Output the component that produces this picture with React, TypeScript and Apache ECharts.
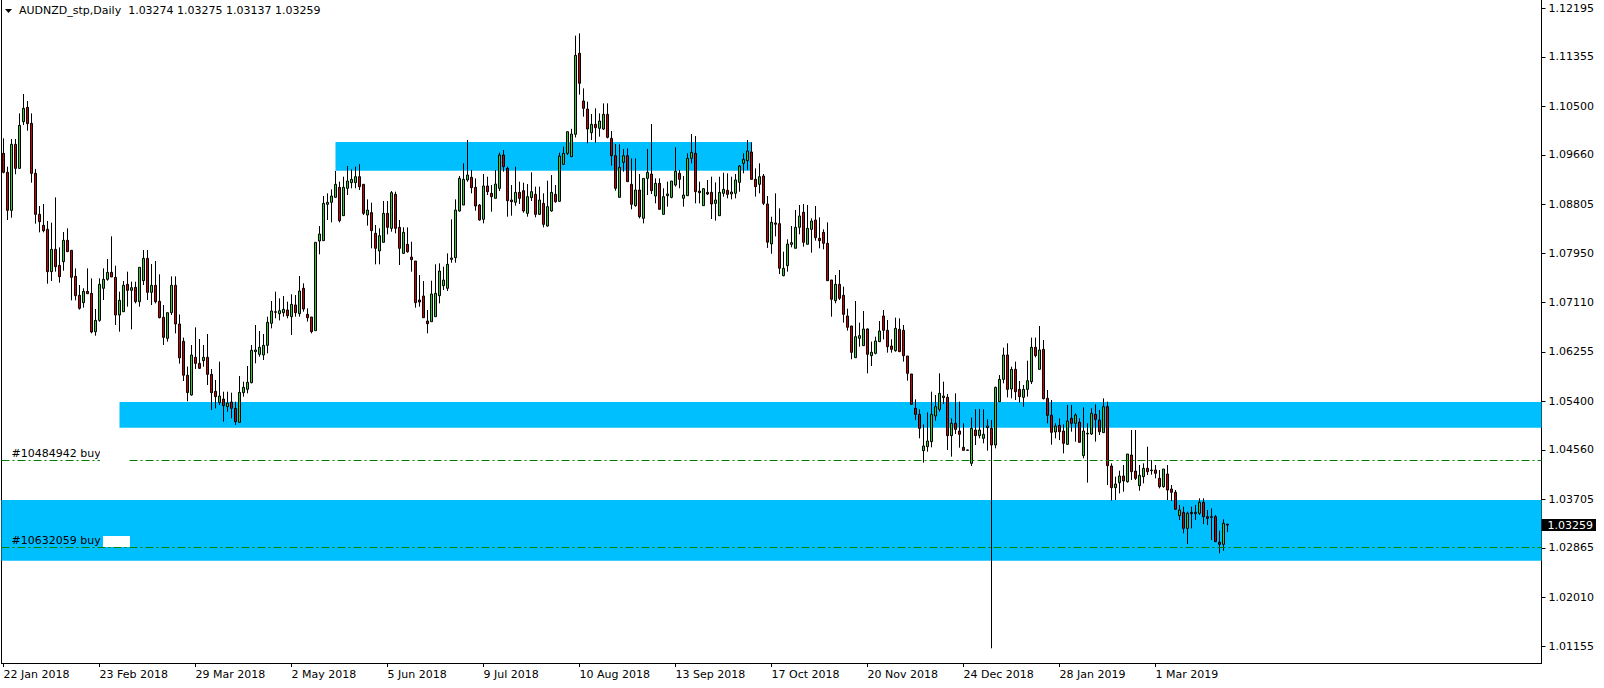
import React, { useEffect, useRef } from 'react';
import * as echarts from 'echarts';

const headerText = 'AUDNZD_stp,Daily  1.03274 1.03275 1.03137 1.03259';
const startDate = '2018-01-22';
const skippedDates = ['2019-01-01'];
const slotCount = 385;
const labelEvery = 24;
const tickLabels = ['22 Jan 2018', '23 Feb 2018', '29 Mar 2018', '2 May 2018', '5 Jun 2018', '9 Jul 2018', '10 Aug 2018', '13 Sep 2018', '17 Oct 2018', '20 Nov 2018', '24 Dec 2018', '28 Jan 2019', '1 Mar 2019'];
const tickPrices = [1.12195, 1.11355, 1.105, 1.0966, 1.08805, 1.0795, 1.0711, 1.06255, 1.054, 1.0456, 1.03705, 1.02865, 1.0201, 1.01155];
const priceMin = 1.00874;
const priceMax = 1.12337;
const currentPrice = 1.03259;

const opens = [
  1.09686, 1.09357, 1.08700, 1.09841, 1.09426, 1.10233, 1.10481, 1.10204, 1.09340, 1.08631,
  1.08441, 1.08372, 1.07640, 1.08026, 1.07749, 1.07813, 1.08182, 1.08009, 1.07559, 1.07231,
  1.07104, 1.07300, 1.07265, 1.06602, 1.06798, 1.07352, 1.07507, 1.07628, 1.07542, 1.06891,
  1.06948, 1.07421, 1.07317, 1.07369, 1.07121, 1.07484, 1.07870, 1.07283, 1.07404, 1.07127,
  1.06850, 1.06487, 1.06931, 1.07404, 1.06735, 1.06435, 1.05850, 1.05508, 1.06159, 1.06055,
  1.06101, 1.06159, 1.05865, 1.05571, 1.05375, 1.05438, 1.05306, 1.05386, 1.05277, 1.05035,
  1.05548, 1.05606, 1.05721, 1.06257, 1.06211, 1.06199, 1.06366, 1.06747, 1.06937, 1.06914,
  1.06931, 1.06977, 1.06862, 1.07064, 1.06914, 1.07352, 1.06902, 1.06856, 1.06620, 1.08170,
  1.08176, 1.08804, 1.08839, 1.08925, 1.09098, 1.08608, 1.09081, 1.09179, 1.09179, 1.09282,
  1.09150, 1.08620, 1.08660, 1.08303, 1.07998, 1.08147, 1.08648, 1.08389, 1.08977, 1.08406,
  1.07957, 1.08112, 1.07893, 1.07824, 1.07150, 1.07219, 1.06787, 1.06775, 1.06862, 1.07225,
  1.07398, 1.07352, 1.07853, 1.07882, 1.08689, 1.08792, 1.09225, 1.09271, 1.09098, 1.08792,
  1.08545, 1.09121, 1.08994, 1.08908, 1.09081, 1.09657, 1.09426, 1.08879, 1.08839, 1.09011,
  1.09040, 1.08648, 1.08919, 1.08977, 1.08631, 1.08821, 1.08429, 1.08689, 1.08977, 1.08856,
  1.09496, 1.09686, 1.09628, 1.10015, 1.11415, 1.10591, 1.10452, 1.10043, 1.10187, 1.10118,
  1.10106, 1.10360, 1.09945, 1.09645, 1.08925, 1.09530, 1.09645, 1.09150, 1.08781, 1.09052,
  1.08562, 1.09253, 1.09328, 1.08948, 1.09167, 1.08631, 1.08954, 1.08925, 1.09138, 1.09340,
  1.08908, 1.08954, 1.09599, 1.09686, 1.09034, 1.08781, 1.09011, 1.09011, 1.08821, 1.08608,
  1.08994, 1.09046, 1.08983, 1.08994, 1.09184, 1.09513, 1.09559, 1.09709, 1.09236, 1.09150,
  1.09294, 1.08810, 1.08120, 1.08482, 1.08470, 1.07571, 1.07744, 1.08112, 1.08044, 1.08407,
  1.08666, 1.08113, 1.08372, 1.08533, 1.08216, 1.08320, 1.08130, 1.07496, 1.07139, 1.07421,
  1.07231, 1.06874, 1.06701, 1.06153, 1.06488, 1.06361, 1.06649, 1.06188, 1.06228, 1.06430,
  1.06874, 1.06626, 1.06355, 1.06274, 1.06643, 1.06626, 1.06182, 1.05871, 1.05277, 1.05173,
  1.04545, 1.04614, 1.04701, 1.05144, 1.05260, 1.05462, 1.05467, 1.04805, 1.05018, 1.04885,
  1.04603, 1.04557, 1.04326, 1.04902, 1.04805, 1.04758, 1.04943, 1.04931, 1.04643, 1.05392,
  1.05778, 1.06199, 1.05611, 1.05951, 1.05605, 1.05467, 1.05605, 1.05738, 1.06332, 1.05951,
  1.06297, 1.05450, 1.05156, 1.04868, 1.04983, 1.04885, 1.04655, 1.05104, 1.05018, 1.05035,
  1.04459, 1.04845, 1.04833, 1.05173, 1.05075, 1.04856, 1.05306, 1.04280, 1.03905, 1.03992,
  1.04107, 1.04009, 1.04470, 1.04193, 1.03940, 1.04095, 1.04240, 1.04211, 1.04211, 1.04067,
  1.03923, 1.04142, 1.03882, 1.03825, 1.03421, 1.03479, 1.03202, 1.03479, 1.03456, 1.03462,
  1.03652, 1.03404, 1.03392, 1.03404, 1.02960, 1.02926, 1.03274
];

const highs = [
  1.09945, 1.09455, 1.09933, 1.09933, 1.10377, 1.10711, 1.10590, 1.10377, 1.09415, 1.08775,
  1.08810, 1.08516, 1.08487, 1.08925, 1.08060, 1.08326, 1.08389, 1.08009, 1.07697, 1.07409,
  1.07352, 1.07697, 1.07524, 1.06994, 1.07524, 1.07697, 1.07859, 1.08251, 1.07743, 1.07294,
  1.07478, 1.07640, 1.07467, 1.07467, 1.07715, 1.08014, 1.08014, 1.07772, 1.07824, 1.07594,
  1.07063, 1.06931, 1.07559, 1.07559, 1.06900, 1.06500, 1.06000, 1.06372, 1.06677, 1.06476,
  1.06372, 1.06562, 1.05957, 1.05767, 1.06084, 1.05565, 1.05565, 1.05548, 1.05392, 1.05836,
  1.05738, 1.06009, 1.06372, 1.06718, 1.06614, 1.06562, 1.06862, 1.07133, 1.07294, 1.07179,
  1.07219, 1.07121, 1.07248, 1.07236, 1.07565, 1.07438, 1.07006, 1.06856, 1.08147, 1.08429,
  1.08948, 1.08994, 1.09063, 1.09380, 1.09196, 1.09282, 1.09467, 1.09409, 1.09455, 1.09500,
  1.09150, 1.08890, 1.08833, 1.08447, 1.08389, 1.08862, 1.08862, 1.09034, 1.09023, 1.08533,
  1.08406, 1.08406, 1.08158, 1.07824, 1.07582, 1.07478, 1.06977, 1.07484, 1.07767, 1.07784,
  1.07726, 1.07957, 1.08544, 1.08890, 1.09294, 1.09513, 1.09916, 1.09398, 1.09253, 1.08810,
  1.09328, 1.09282, 1.09138, 1.09398, 1.09697, 1.09743, 1.09455, 1.09138, 1.09455, 1.09196,
  1.09179, 1.09155, 1.09357, 1.09110, 1.09110, 1.08994, 1.09213, 1.09311, 1.09138, 1.09697,
  1.09801, 1.10060, 1.10110, 1.11720, 1.11760, 1.10809, 1.10579, 1.10366, 1.10464, 1.10377,
  1.10550, 1.10550, 1.10072, 1.09847, 1.09841, 1.09761, 1.09772, 1.09599, 1.09599, 1.09328,
  1.09253, 1.09761, 1.10193, 1.09253, 1.09253, 1.09081, 1.09196, 1.09207, 1.09790, 1.09398,
  1.09294, 1.09686, 1.10020, 1.09985, 1.09196, 1.09086, 1.09225, 1.09282, 1.09184, 1.09282,
  1.09351, 1.09340, 1.09282, 1.09328, 1.09484, 1.09686, 1.09916, 1.09876, 1.09426, 1.09513,
  1.09328, 1.08948, 1.08590, 1.08994, 1.08735, 1.07986, 1.08199, 1.08430, 1.08706, 1.08793,
  1.08810, 1.08793, 1.08562, 1.08775, 1.08579, 1.08372, 1.08493, 1.07496, 1.07582, 1.07669,
  1.07381, 1.07000, 1.06701, 1.07133, 1.06758, 1.06960, 1.06660, 1.06430, 1.06516, 1.06787,
  1.06977, 1.06804, 1.06470, 1.06845, 1.06833, 1.06718, 1.06182, 1.05871, 1.05433, 1.05260,
  1.04999, 1.05208, 1.05565, 1.05508, 1.05882, 1.05738, 1.05525, 1.05104, 1.05537, 1.05392,
  1.05018, 1.04560, 1.05116, 1.05260, 1.05266, 1.05260, 1.05087, 1.05075, 1.05652, 1.05853,
  1.06326, 1.06401, 1.05997, 1.06084, 1.05750, 1.05680, 1.06101, 1.06499, 1.06499, 1.06700,
  1.06458, 1.05594, 1.05421, 1.05018, 1.05104, 1.05000, 1.05335, 1.05335, 1.05190, 1.05104,
  1.05294, 1.05018, 1.05277, 1.05346, 1.05248, 1.05450, 1.05392, 1.04326, 1.04095, 1.04199,
  1.04297, 1.04487, 1.04902, 1.04902, 1.04297, 1.04326, 1.04614, 1.04384, 1.04297, 1.04211,
  1.04228, 1.04297, 1.03951, 1.03865, 1.03606, 1.03577, 1.03490, 1.03577, 1.03606, 1.03721,
  1.03721, 1.03519, 1.03548, 1.03433, 1.03162, 1.03358, 1.03275
];

const lows = [
  1.09340, 1.08533, 1.08573, 1.09323, 1.09426, 1.10175, 1.10078, 1.09178, 1.08470, 1.08320,
  1.08320, 1.07432, 1.07478, 1.07640, 1.07450, 1.07657, 1.07986, 1.07144, 1.07144, 1.06983,
  1.07017, 1.07259, 1.06574, 1.06533, 1.06775, 1.07150, 1.07484, 1.07548, 1.06718, 1.06602,
  1.06948, 1.07035, 1.06643, 1.07092, 1.07035, 1.07409, 1.07150, 1.07063, 1.07092, 1.06833,
  1.06372, 1.06430, 1.06891, 1.06574, 1.06050, 1.05750, 1.05400, 1.05496, 1.05957, 1.05957,
  1.05997, 1.05680, 1.05248, 1.05277, 1.05335, 1.05047, 1.05219, 1.05104, 1.04989, 1.05035,
  1.05479, 1.05536, 1.05709, 1.06055, 1.06170, 1.06113, 1.06228, 1.06660, 1.06833, 1.06798,
  1.06862, 1.06833, 1.06545, 1.06862, 1.06862, 1.06948, 1.06776, 1.06574, 1.06620, 1.07940,
  1.08176, 1.08533, 1.08493, 1.08919, 1.08493, 1.08608, 1.08965, 1.09081, 1.09081, 1.09052,
  1.08620, 1.08435, 1.08044, 1.07767, 1.07767, 1.08147, 1.08285, 1.08331, 1.08303, 1.07755,
  1.07945, 1.07968, 1.07640, 1.07017, 1.07035, 1.06844, 1.06574, 1.06775, 1.06862, 1.07092,
  1.07323, 1.07306, 1.07795, 1.07795, 1.08677, 1.08792, 1.09196, 1.08994, 1.08694, 1.08522,
  1.08475, 1.08965, 1.08677, 1.08908, 1.09034, 1.09369, 1.08591, 1.08608, 1.08781, 1.08810,
  1.08660, 1.08591, 1.08862, 1.08579, 1.08620, 1.08406, 1.08418, 1.08677, 1.08833, 1.08850,
  1.09484, 1.09657, 1.09628, 1.09960, 1.10700, 1.10320, 1.09859, 1.09916, 1.09870, 1.09974,
  1.10089, 1.09945, 1.09473, 1.09040, 1.08925, 1.09369, 1.09196, 1.08718, 1.08764, 1.08562,
  1.08475, 1.08965, 1.08983, 1.08821, 1.08718, 1.08631, 1.08764, 1.08908, 1.09110, 1.09081,
  1.08764, 1.08954, 1.09513, 1.08821, 1.08821, 1.08781, 1.08965, 1.08550, 1.08522, 1.08608,
  1.08937, 1.08908, 1.08890, 1.08908, 1.09023, 1.09340, 1.09398, 1.09236, 1.08937, 1.08994,
  1.08792, 1.08050, 1.07950, 1.08250, 1.07600, 1.07560, 1.07640, 1.08061, 1.08044, 1.08286,
  1.08072, 1.08113, 1.07969, 1.08176, 1.08044, 1.08026, 1.07484, 1.06862, 1.07093, 1.07150,
  1.06758, 1.06620, 1.06125, 1.06153, 1.06343, 1.06361, 1.05882, 1.06009, 1.06211, 1.06430,
  1.06470, 1.06240, 1.06240, 1.06257, 1.06257, 1.06084, 1.05756, 1.05346, 1.05075, 1.04759,
  1.04338, 1.04528, 1.04603, 1.05064, 1.05220, 1.05352, 1.04557, 1.04442, 1.04833, 1.04597,
  1.04551, 1.04550, 1.04280, 1.04643, 1.04758, 1.04672, 1.04545, 1.01128, 1.04586, 1.05392,
  1.05709, 1.05467, 1.05450, 1.05421, 1.05375, 1.05306, 1.05479, 1.05698, 1.06159, 1.05951,
  1.05433, 1.05018, 1.04649, 1.04758, 1.04729, 1.04499, 1.04643, 1.04874, 1.04700, 1.04689,
  1.04413, 1.03992, 1.04816, 1.04701, 1.04816, 1.04856, 1.03951, 1.03681, 1.03692, 1.03807,
  1.03836, 1.03992, 1.04038, 1.04038, 1.03853, 1.03980, 1.04124, 1.04130, 1.04067, 1.03894,
  1.03905, 1.03692, 1.03675, 1.03519, 1.03346, 1.03116, 1.02931, 1.03202, 1.03346, 1.03433,
  1.03277, 1.03260, 1.02999, 1.02972, 1.02770, 1.02816, 1.03137
];

const closes = [
  1.09357, 1.08700, 1.09841, 1.09426, 1.10170, 1.10464, 1.10199, 1.09340, 1.08631, 1.08504,
  1.08349, 1.07640, 1.08026, 1.07726, 1.07553, 1.08182, 1.07986, 1.07542, 1.07225, 1.07006,
  1.07300, 1.07259, 1.06597, 1.06798, 1.07421, 1.07507, 1.07628, 1.07548, 1.06891, 1.07144,
  1.07404, 1.07317, 1.07363, 1.07121, 1.07715, 1.07870, 1.07283, 1.07404, 1.07121, 1.06845,
  1.06504, 1.06931, 1.07404, 1.06735, 1.06150, 1.05850, 1.05550, 1.06199, 1.06055, 1.05969,
  1.06159, 1.05865, 1.05548, 1.05479, 1.05490, 1.05323, 1.05369, 1.05277, 1.05047, 1.05554,
  1.05640, 1.05727, 1.06280, 1.06286, 1.06332, 1.06366, 1.06764, 1.06960, 1.06948, 1.06966,
  1.06989, 1.06879, 1.07075, 1.06931, 1.07306, 1.06994, 1.06845, 1.06603, 1.08147, 1.08291,
  1.08821, 1.08839, 1.08948, 1.09150, 1.08522, 1.09098, 1.09207, 1.09236, 1.09282, 1.09110,
  1.08648, 1.08706, 1.08349, 1.08044, 1.08262, 1.08648, 1.08406, 1.09006, 1.08389, 1.08044,
  1.08320, 1.07985, 1.07847, 1.07104, 1.07115, 1.06844, 1.06741, 1.07254, 1.07265, 1.07651,
  1.07496, 1.07767, 1.07876, 1.08706, 1.09253, 1.09236, 1.09311, 1.09092, 1.08775, 1.08533,
  1.09121, 1.09023, 1.08937, 1.09155, 1.09657, 1.09455, 1.08867, 1.08850, 1.09011, 1.08908,
  1.08689, 1.08937, 1.09023, 1.08631, 1.08879, 1.08458, 1.08764, 1.09011, 1.08850, 1.09639,
  1.09686, 1.10060, 1.10020, 1.11380, 1.10897, 1.10464, 1.10106, 1.10187, 1.10129, 1.10245,
  1.10360, 1.09962, 1.09645, 1.09081, 1.09444, 1.09645, 1.09196, 1.08804, 1.09052, 1.08591,
  1.09253, 1.09357, 1.09040, 1.09167, 1.08718, 1.08937, 1.08983, 1.09207, 1.09375, 1.09236,
  1.08965, 1.09599, 1.09703, 1.09023, 1.09006, 1.09075, 1.08983, 1.08810, 1.08879, 1.09011,
  1.09063, 1.08977, 1.09017, 1.09225, 1.09467, 1.09582, 1.09726, 1.09236, 1.09110, 1.09282,
  1.08821, 1.08150, 1.08493, 1.08460, 1.07700, 1.07698, 1.08118, 1.08141, 1.08407, 1.08603,
  1.08147, 1.08389, 1.08516, 1.08228, 1.08176, 1.08130, 1.07484, 1.07162, 1.07421, 1.07179,
  1.06902, 1.06678, 1.06245, 1.06516, 1.06534, 1.06649, 1.06211, 1.06246, 1.06441, 1.06614,
  1.06626, 1.06343, 1.06297, 1.06660, 1.06257, 1.06188, 1.05882, 1.05346, 1.05173, 1.04931,
  1.04626, 1.04712, 1.05173, 1.05306, 1.05537, 1.05490, 1.04805, 1.05018, 1.04914, 1.04828,
  1.04551, 1.04552, 1.04931, 1.04805, 1.04902, 1.04828, 1.04972, 1.04643, 1.05640, 1.05778,
  1.06199, 1.05605, 1.05951, 1.05565, 1.05479, 1.05605, 1.05755, 1.06332, 1.06188, 1.06286,
  1.05444, 1.05156, 1.04862, 1.04971, 1.04873, 1.04672, 1.05058, 1.05018, 1.05162, 1.04689,
  1.04885, 1.04834, 1.05190, 1.05087, 1.04873, 1.05306, 1.04286, 1.03905, 1.03969, 1.04107,
  1.04021, 1.04487, 1.04182, 1.04067, 1.04118, 1.04240, 1.04182, 1.04199, 1.04153, 1.03923,
  1.04228, 1.03865, 1.03825, 1.03531, 1.03519, 1.03202, 1.03462, 1.03456, 1.03479, 1.03652,
  1.03404, 1.03375, 1.03404, 1.02972, 1.02926, 1.03289, 1.03259
];

// supply / demand zones: bar index where they start / end (null = chart edge) and price bounds
const zoneStart = [83, 29, null];
const zoneEnd = [187, null, null];
const zoneTop = [1.09882, 1.05386, 1.03692];
const zoneBottom = [1.09386, 1.04942, 1.02643];

const orderTickets = ['#10484942 buy', '#10632059 buy'];
const orderPrices = [1.04378, 1.02874];

const FONT = 'DejaVu Sans';
const UP = '#2ECC2E';
const DOWN = '#CC0000';
const ZONE = '#00BFFF';

function buildDates(n: number): string[] {
  const out: string[] = [];
  const d = new Date(startDate + 'T00:00:00Z');
  while (out.length < n) {
    const wd = d.getUTCDay();
    const iso = d.toISOString().slice(0, 10);
    if (wd !== 0 && wd !== 6 && !skippedDates.includes(iso)) out.push(iso);
    d.setUTCDate(d.getUTCDate() + 1);
  }
  return out;
}

export default function App() {
  const ref = useRef<HTMLDivElement>(null);
  useEffect(() => {
    if (!ref.current) return;
    const chart = echarts.init(ref.current, undefined, { renderer: 'svg' });
    const categories = buildDates(slotCount);
    const candles = opens.map((o, i) => {
      const c = closes[i];
      return [o, c, Math.min(lows[i], o, c), Math.max(highs[i], o, c)];
    });
    const areas = zoneTop.map((top, i) => {
      const a: any = { yAxis: top };
      const b: any = { yAxis: zoneBottom[i] };
      if (zoneStart[i] !== null) a.xAxis = zoneStart[i];
      if (zoneEnd[i] !== null) b.xAxis = zoneEnd[i];
      return [a, b];
    });
    const orderLines = orderTickets.map((t, i) => ({
      yAxis: orderPrices[i],
      lineStyle: { color: '#008000', width: 1, type: [8, 3, 2, 3] },
      label: {
        show: true,
        position: 'insideStartTop',
        formatter: t,
        color: '#000',
        fontFamily: FONT,
        fontSize: 11,
        distance: [10, 1],
      },
    }));
    const priceLine = {
      yAxis: currentPrice,
      lineStyle: { color: 'rgba(0,0,0,0)', width: 0 },
      label: {
        show: true,
        position: 'end',
        formatter: currentPrice.toFixed(5),
        backgroundColor: '#000',
        color: '#fff',
        opacity: 1,
        fontFamily: FONT,
        fontSize: 11,
        padding: [1, 3, 0, 6],
        distance: 0,
      },
    };
    const option: any = {
      animation: false,
      backgroundColor: '#fff',
      grid: { left: 1.5, top: 0, width: 1540, height: 663, show: false },
      xAxis: {
        type: 'category',
        data: categories,
        boundaryGap: true,
        axisLine: { show: true, lineStyle: { color: '#000', width: 1 } },
        axisTick: {
          show: true,
          alignWithLabel: true,
          length: 4,
          interval: (i: number) => i % labelEvery === 0 && i / labelEvery < tickLabels.length,
          lineStyle: { color: '#000' },
        },
        axisLabel: {
          show: true,
          interval: (i: number) => i % labelEvery === 0 && i / labelEvery < tickLabels.length,
          formatter: (_v: string, i: number) => tickLabels[i / labelEvery] ?? '',
          align: 'left',
          margin: 6,
          color: '#000',
          fontFamily: FONT,
          fontSize: 11,
        },
        splitLine: { show: false },
      },
      yAxis: [
        {
          type: 'value',
          position: 'right',
          min: priceMin,
          max: priceMax,
          scale: true,
          splitLine: { show: false },
          axisLine: { show: true, lineStyle: { color: '#000', width: 1 } },
          axisTick: { show: true, length: 4, customValues: tickPrices, lineStyle: { color: '#000' } },
          axisLabel: {
            show: true,
            customValues: tickPrices,
            formatter: (v: number) => v.toFixed(5),
            margin: 7,
            color: '#000',
            fontFamily: FONT,
            fontSize: 11,
          },
        },
        {
          type: 'value',
          position: 'left',
          min: priceMin,
          max: priceMax,
          scale: true,
          splitLine: { show: false },
          axisLine: { show: true, lineStyle: { color: '#000', width: 1 } },
          axisTick: { show: false },
          axisLabel: { show: false },
        },
      ],
      series: [
        {
          type: 'candlestick',
          data: candles,
          yAxisIndex: 0,
          barWidth: 2,
          itemStyle: {
            color: UP,
            color0: DOWN,
            borderColor: '#000',
            borderColor0: '#000',
            borderColorDoji: '#000',
            borderWidth: 1,
          },
          markArea: {
            silent: true,
            z: 1,
            itemStyle: { color: ZONE, opacity: 1 },
            data: areas,
          },
          markLine: {
            silent: true,
            precision: 5,
            symbol: ['none', 'none'],
            data: [...orderLines, priceLine],
          },
        },
      ],
      graphic: [
        {
          type: 'polygon',
          shape: { points: [[5, 9], [12, 9], [8.5, 13]] },
          style: { fill: '#000' },
        },
        {
          type: 'text',
          left: 19,
          top: 5,
          style: { text: headerText, fill: '#000', font: `11px "${FONT}"` },
        },
        { type: 'rect', shape: { x: 100, y: 449, width: 28, height: 13 }, style: { fill: '#fff' }, z: 100 },
        { type: 'rect', shape: { x: 103, y: 536, width: 27, height: 11 }, style: { fill: '#fff' }, z: 100 },
      ],
    };
    chart.setOption(option);
    return () => chart.dispose();
  }, []);
  return (
    <div
      ref={ref}
      style={{ position: 'fixed', left: 0, top: 0, width: 1604, height: 688, background: '#fff' }}
    />
  );
}
